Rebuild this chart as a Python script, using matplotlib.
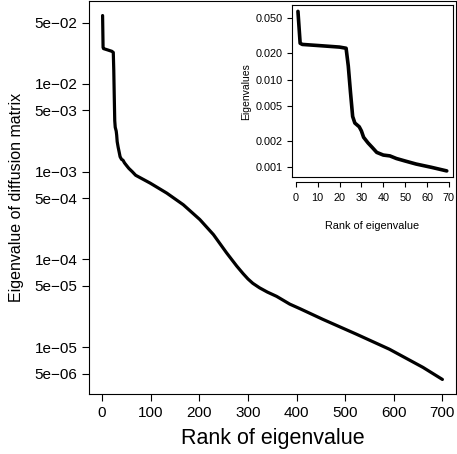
import numpy as np
import matplotlib
matplotlib.use('Agg')
import matplotlib.pyplot as plt

plt.rcParams['font.family'] = ['Liberation Sans', 'DejaVu Sans']

# Собственные значения (ранг, значение)
rank = [1, 2, 3, 10, 20, 23, 24, 25, 26, 27, 29, 30, 31, 33, 35, 37, 40, 43, 46,
        50, 55, 62, 69, 99, 133, 167, 201, 229, 256, 277, 290, 300, 310, 324,
        340, 359, 386, 407, 454, 523, 591, 660, 700]
eig = [0.060, 0.026, 0.0252, 0.0245, 0.0235, 0.0228, 0.0143, 0.0072, 0.0038,
       0.0032, 0.0029, 0.0026, 0.0022, 0.0019, 0.00168, 0.00148, 0.00138,
       0.00135, 0.00126, 0.00118, 0.00109, 0.00100, 0.00091, 0.00074, 0.00057,
       0.00042, 0.000285, 0.000192, 0.000119, 8.4e-5, 6.9e-5, 6.0e-5, 5.35e-5,
       4.75e-5, 4.25e-5, 3.8e-5, 3.1e-5, 2.75e-5, 2.08e-5, 1.41e-5, 9.5e-6,
       5.9e-6, 4.3e-6]

main_xticks = [0, 100, 200, 300, 400, 500, 600, 700]
main_yticks = [5e-6, 1e-5, 5e-5, 1e-4, 5e-4, 1e-3, 5e-3, 1e-2, 5e-2]
main_ylabels = ['5e\u221206', '1e\u221205', '5e\u221205', '1e\u221204', '5e\u221204',
                '1e\u221203', '5e\u221203', '1e\u221202', '5e\u221202']

inset_n = 69
inset_xticks = [0, 10, 20, 30, 40, 50, 60, 70]
inset_yticks = [0.001, 0.002, 0.005, 0.010, 0.020, 0.050]
inset_ylabels = ['0.001', '0.002', '0.005', '0.010', '0.020', '0.050']


def r_lim(lo, hi, log=False):
    # пределы осей как в R (+4%)
    if log:
        lo, hi = np.log10(lo), np.log10(hi)
    d = (hi - lo) * 0.04
    lo, hi = lo - d, hi + d
    if log:
        return 10 ** lo, 10 ** hi
    return lo, hi


W, H = 457, 454
fig = plt.figure(figsize=(W / 100, H / 100), dpi=100)

# Основной график
ax = fig.add_axes([89 / W, 1 - 394 / H, (456 - 89) / W, (394 - 1) / H])
ax.plot(rank, eig, color='black', lw=2.3, solid_joinstyle='round', solid_capstyle='round')
ax.set_yscale('log')
ax.set_xlim(*r_lim(min(rank), max(rank)))
ax.set_ylim(*r_lim(min(eig), max(eig), log=True))
ax.set_xticks(main_xticks)
ax.set_yticks(main_yticks)
ax.set_yticklabels(main_ylabels)
ax.minorticks_off()
ax.tick_params(axis='both', direction='out', length=4.8, width=0.8, labelsize=11)
ax.tick_params(axis='x', pad=3.5)
ax.tick_params(axis='y', pad=3.6)
for s in ax.spines.values():
    s.set_linewidth(0.8)
ax.set_xlabel('Rank of eigenvalue', fontsize=15.5, va='center')
ax.xaxis.set_label_coords(0.5, -0.113)
ax.set_ylabel('Eigenvalue of diffusion matrix', fontsize=11.5, va='center')
ax.yaxis.set_label_coords(-0.197, 0.5)

# Врезка: первые 69 значений
r_in = [r for r in rank if r <= inset_n]
e_in = eig[:len(r_in)]
axi = fig.add_axes([292 / W, 1 - 177.3 / H, (452.7 - 292) / W, (177.3 - 5) / H])
axi.plot(r_in, e_in, color='black', lw=2.6, solid_joinstyle='round', solid_capstyle='round')
axi.set_yscale('log')
axi.set_xlim(*r_lim(1, inset_n))
axi.set_ylim(*r_lim(min(e_in), max(e_in), log=True))
axi.set_yticks(inset_yticks)
axi.set_yticklabels(inset_ylabels)
axi.minorticks_off()
axi.set_xticks([])
axi.tick_params(axis='y', direction='out', length=3.8, width=0.8, labelsize=7.8, pad=3.2)
for s in axi.spines.values():
    s.set_linewidth(0.8)

# ось X врезки немного ниже рамки
sec = axi.secondary_xaxis(-5 / 172.3)
sec.set_xticks(inset_xticks)
sec.spines['bottom'].set_bounds(0, 70)
sec.spines['bottom'].set_linewidth(0.8)
sec.tick_params(axis='x', direction='out', length=3.8, width=0.8, labelsize=7.8, pad=4.0)

axi.text(0.5, -0.285, 'Rank of eigenvalue', transform=axi.transAxes,
         ha='center', va='center', fontsize=7.8)
axi.text(-0.284, 0.497, 'Eigenvalues', transform=axi.transAxes, rotation=90,
         ha='center', va='center', fontsize=7.5)

fig.savefig('out.png', dpi=100)
